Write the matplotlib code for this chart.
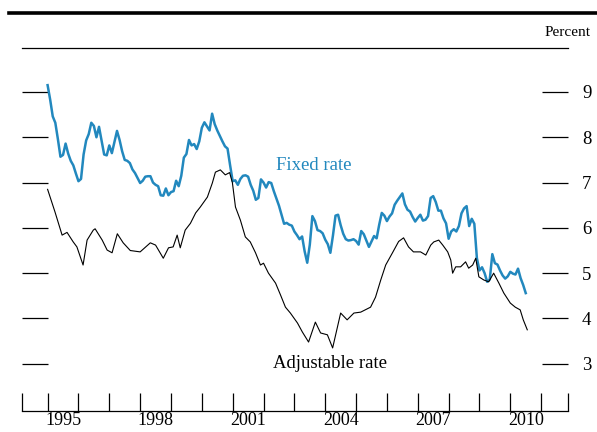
import matplotlib.pyplot as plt
from matplotlib.lines import Line2D
import numpy as np

# 30-year fixed rate, monthly averages, Jan 1995 - Jul 2010
fixed_rate = [
    9.15, 8.83, 8.46, 8.32, 7.96, 7.57, 7.61, 7.86, 7.64, 7.48, 7.38, 7.20,  # 1995
    7.03, 7.08, 7.62, 7.93, 8.07, 8.32, 8.25, 8.00, 8.23, 7.92, 7.62, 7.60,  # 1996
    7.82, 7.65, 7.90, 8.14, 7.94, 7.69, 7.50, 7.48, 7.43, 7.29, 7.21, 7.10,  # 1997
    6.99, 7.04, 7.13, 7.14, 7.14, 7.00, 6.95, 6.92, 6.72, 6.71, 6.87, 6.72,  # 1998
    6.79, 6.81, 7.04, 6.92, 7.15, 7.55, 7.63, 7.94, 7.82, 7.85, 7.74, 7.91,  # 1999
    8.21, 8.33, 8.24, 8.15, 8.52, 8.29, 8.15, 8.03, 7.91, 7.80, 7.75, 7.38,  # 2000
    7.03, 7.05, 6.95, 7.08, 7.15, 7.16, 7.13, 6.95, 6.82, 6.62, 6.66, 7.07,  # 2001
    7.00, 6.89, 7.01, 6.99, 6.81, 6.65, 6.49, 6.29, 6.09, 6.11, 6.07, 6.05,  # 2002
    5.92, 5.84, 5.75, 5.81, 5.48, 5.23, 5.63, 6.26, 6.15, 5.95, 5.93, 5.88,  # 2003
    5.74, 5.64, 5.45, 5.83, 6.27, 6.29, 6.06, 5.87, 5.75, 5.72, 5.73, 5.75,  # 2004
    5.71, 5.63, 5.93, 5.86, 5.72, 5.58, 5.70, 5.82, 5.77, 6.07, 6.33, 6.27,  # 2005
    6.15, 6.25, 6.32, 6.51, 6.60, 6.68, 6.76, 6.52, 6.40, 6.36, 6.24, 6.14,  # 2006
    6.22, 6.29, 6.16, 6.18, 6.26, 6.66, 6.70, 6.57, 6.38, 6.38, 6.21, 6.10,  # 2007
    5.76, 5.92, 5.97, 5.92, 6.04, 6.32, 6.43, 6.48, 6.04, 6.20, 6.09, 5.33,  # 2008
    5.06, 5.13, 5.00, 4.81, 4.86, 5.42, 5.22, 5.19, 5.06, 4.95, 4.88, 4.93,  # 2009
    5.03, 4.99, 4.97, 5.10, 4.89, 4.74, 4.56,                                # 2010
]
fixed_dates = 1995.0 + np.arange(len(fixed_rate)) / 12

# 1-year adjustable rate
arm_dates = [
    1995.00, 1995.24, 1995.47, 1995.63, 1995.83, 1995.95, 1996.15, 1996.28,
    1996.48, 1996.54, 1996.77, 1996.93, 1997.09, 1997.26, 1997.45, 1997.68,
    1998.00, 1998.33, 1998.50, 1998.75, 1998.92, 1999.07, 1999.20, 1999.30,
    1999.46, 1999.63, 1999.80, 1999.95, 2000.18, 2000.34, 2000.44, 2000.60,
    2000.76, 2000.90, 2000.99, 2001.09, 2001.25, 2001.41, 2001.57, 2001.74,
    2001.90, 2002.00, 2002.16, 2002.39, 2002.55, 2002.71, 2002.87, 2003.10,
    2003.26, 2003.46, 2003.68, 2003.85, 2004.07, 2004.24, 2004.50, 2004.71,
    2004.93, 2005.15, 2005.47, 2005.63, 2005.80, 2005.96, 2006.18, 2006.38,
    2006.54, 2006.70, 2006.86, 2007.09, 2007.26, 2007.42, 2007.52, 2007.68,
    2007.81, 2007.97, 2008.07, 2008.13, 2008.23, 2008.39, 2008.55, 2008.65,
    2008.78, 2008.88, 2008.98, 2009.14, 2009.30, 2009.46, 2009.63, 2009.79,
    2010.00, 2010.16, 2010.32, 2010.42, 2010.55,
]
arm_rate = [
    6.85, 6.35, 5.84, 5.90, 5.69, 5.58, 5.18, 5.73,
    5.95, 5.98, 5.73, 5.51, 5.45, 5.87, 5.67, 5.50,
    5.47, 5.67, 5.62, 5.33, 5.56, 5.58, 5.84, 5.56,
    5.95, 6.10, 6.33, 6.46, 6.68, 6.99, 7.23, 7.28,
    7.17, 7.22, 7.00, 6.46, 6.17, 5.80, 5.69, 5.45,
    5.18, 5.22, 5.00, 4.78, 4.52, 4.25, 4.12, 3.90,
    3.70, 3.48, 3.92, 3.68, 3.64, 3.35, 4.12, 3.97,
    4.12, 4.14, 4.25, 4.47, 4.85, 5.18, 5.45, 5.70,
    5.78, 5.58, 5.47, 5.47, 5.40, 5.62, 5.69, 5.73,
    5.62, 5.47, 5.29, 5.00, 5.14, 5.14, 5.25, 5.11,
    5.18, 5.33, 4.92, 4.85, 4.81, 5.00, 4.78, 4.56,
    4.34, 4.25, 4.19, 3.97, 3.75,
]

year_ticks = list(range(1995, 2012))
year_labels = [1995, 1998, 2001, 2004, 2007, 2010]
pct_ticks = [3, 4, 5, 6, 7, 8, 9]

blue = "#2288be"
plt.rcParams["font.family"] = ["Liberation Serif", "DejaVu Serif"]

fig = plt.figure(figsize=(5.97, 4.32), dpi=100)
ax = fig.add_axes([22 / 597, 1 - 411 / 432, 546 / 597, 363 / 432])

ax.plot(fixed_dates, fixed_rate, color=blue, lw=1.8)
ax.plot(arm_dates, arm_rate, color="black", lw=0.8)

x0, x1 = 1994.17, 2011.87
ax.set_xlim(x0, x1)
ax.set_ylim(1.958, 9.97)

for s in ["left", "right"]:
    ax.spines[s].set_visible(False)
ax.spines["top"].set_linewidth(0.9)
ax.spines["bottom"].set_linewidth(0.9)

# y ticks: inside marks on both sides, labels on the right
ax.set_yticks(pct_ticks)
ax.tick_params(axis="y", direction="in", length=18.5, width=0.9,
               left=True, right=True, labelleft=False, labelright=True,
               pad=10, labelsize=13.5)

# x ticks: year boundaries, labels at mid-year
ax.set_xticks([x0] + year_ticks + [x1])
ax.set_xticklabels([])
ax.tick_params(axis="x", which="major", direction="in", length=13, width=0.9)
ax.set_xticks([y + 0.5 for y in year_labels], minor=True)
ax.set_xticklabels([str(y) for y in year_labels], minor=True)
ax.tick_params(axis="x", which="minor", length=0, pad=1, labelsize=13)

ax.text(2003.62, 7.37, "Fixed rate", color=blue, fontsize=13.5,
        ha="center", va="center")
ax.text(2004.17, 3.0, "Adjustable rate", color="black", fontsize=13.5,
        ha="center", va="center")

fig.text(0.99, 1 - 33 / 432, "Percent", ha="right", va="center", fontsize=11)
fig.add_artist(Line2D([9 / 597, 1.0], [1 - 13 / 432, 1 - 13 / 432],
                      color="black", lw=2.6))

fig.savefig("out.png", dpi=100)
